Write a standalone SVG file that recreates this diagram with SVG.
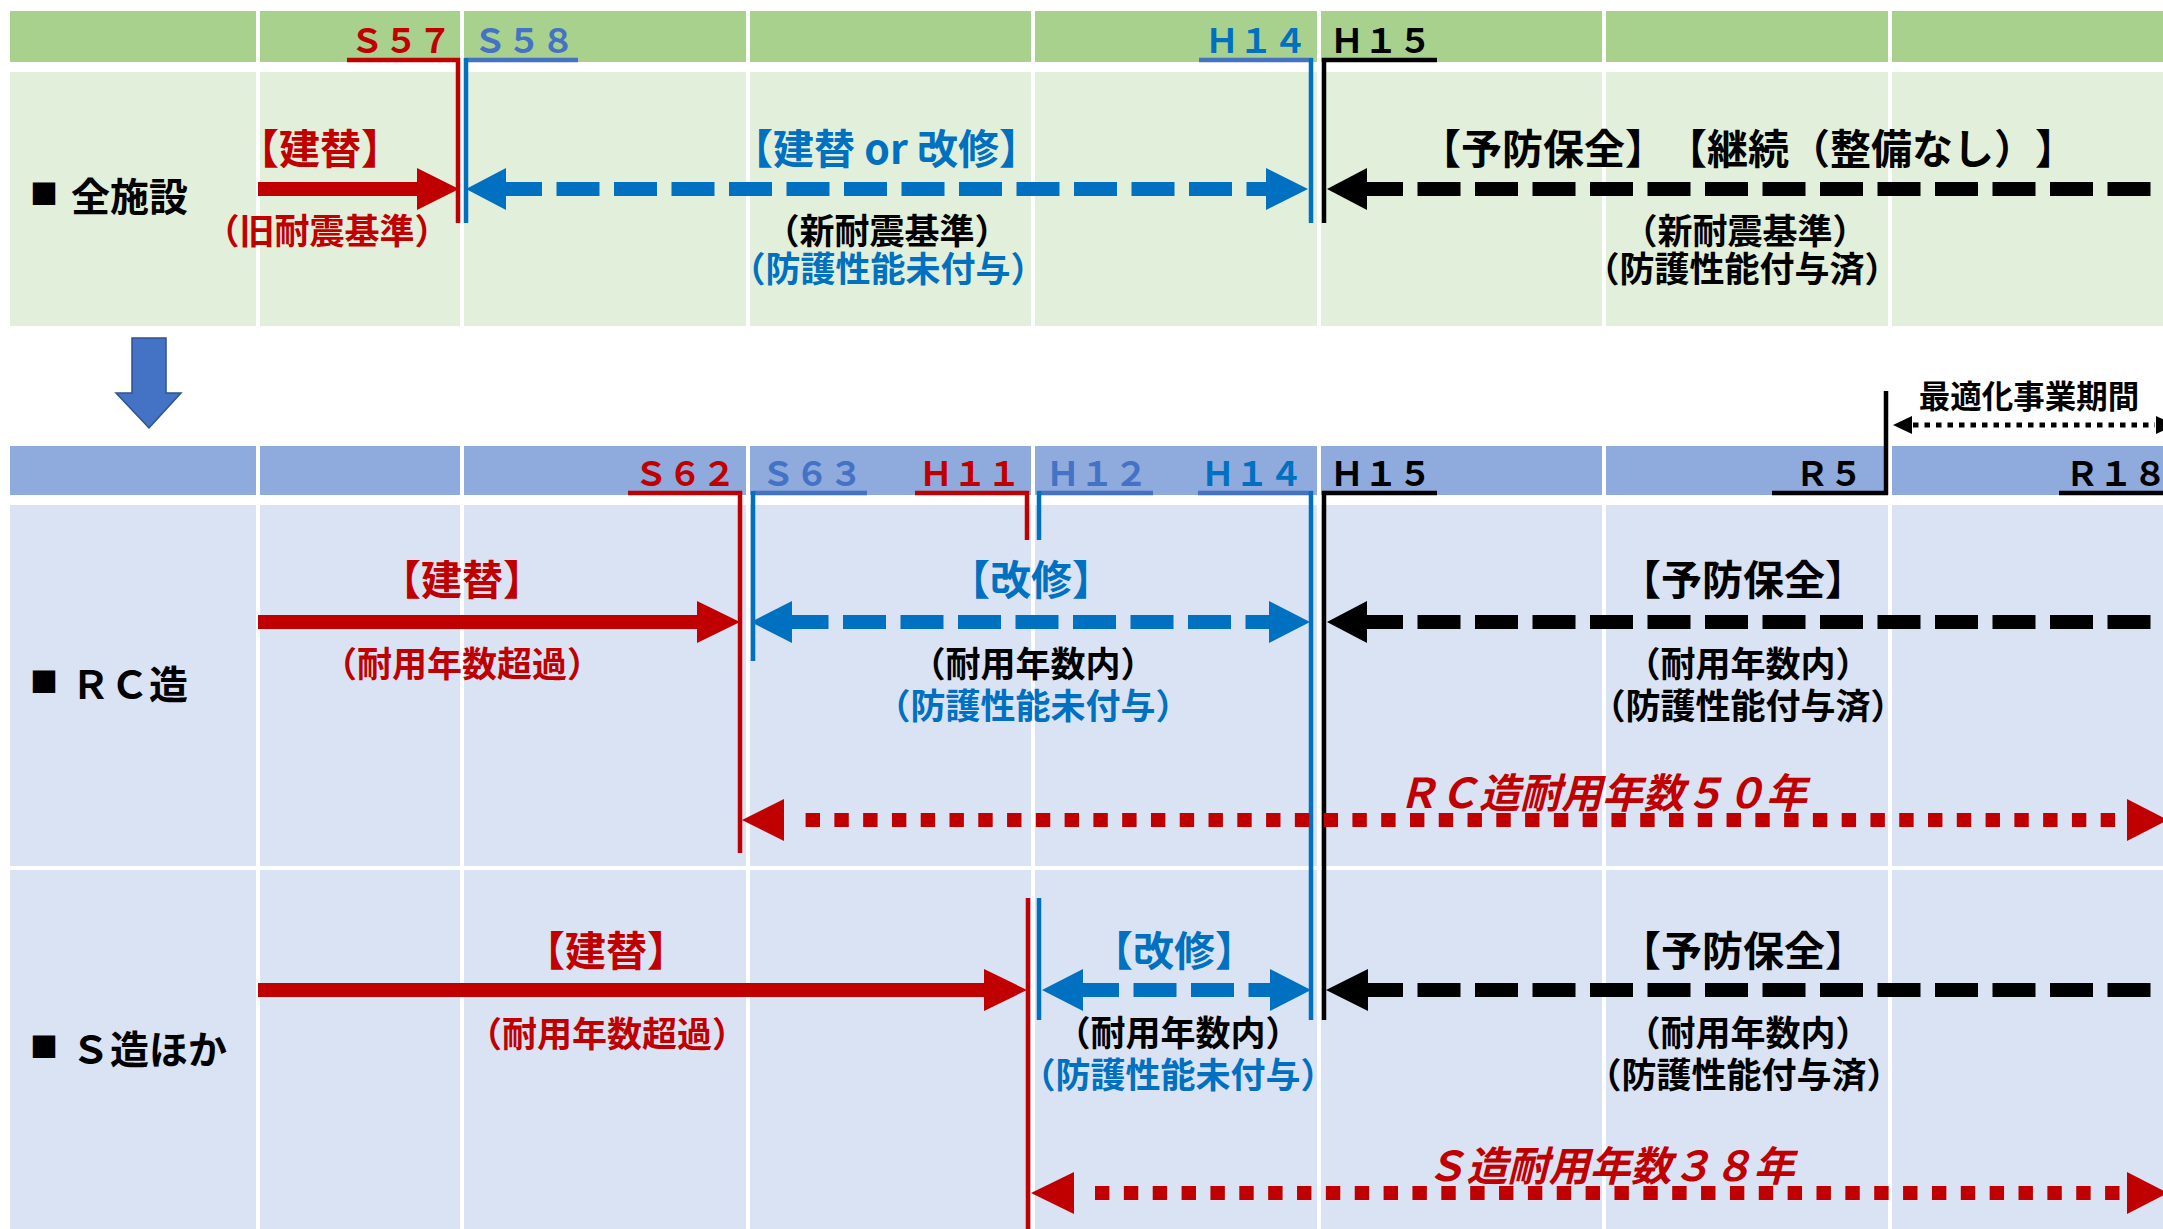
<svg xmlns="http://www.w3.org/2000/svg" width="2163" height="1229" viewBox="0 0 2163 1229">
<defs>
<style>
text{font-family:"Noto Sans CJK JP","Noto Sans",sans-serif;font-weight:700;text-spacing-trim:space-all}
.hdr{font-size:34px;text-anchor:middle}
.lbl{font-size:41px;text-anchor:middle}
.par{font-size:35px;text-anchor:middle}
.row{font-size:39px}
.sq{font-size:28px}
.ital{font-size:41px;font-style:italic;text-anchor:middle}
.red{fill:#C00000}.blue{fill:#0070C0}.lblue{fill:#4472C4}.blk{fill:#000}
.gh{fill:#A9D18E}.gb{fill:#E2EFDA}.bh{fill:#8FAADC}.bb{fill:#DAE3F3}
.wl{stroke:#fff;stroke-width:4}
.vr{stroke:#C00000;stroke-width:4.5}.vb{stroke:#0070C0;stroke-width:4.5}.vk{stroke:#000;stroke-width:4.5}
.ur{stroke:#C00000;stroke-width:4.5}.ub{stroke:#4472C4;stroke-width:4.5}.uk{stroke:#000;stroke-width:4.5}
.dashB{stroke:#0070C0;stroke-width:14;stroke-dasharray:43 14.5;fill:none}
.dashK{stroke:#000;stroke-width:14;stroke-dasharray:43 14.5;fill:none}
.dotR{stroke:#C00000;stroke-width:14;fill:none}
.dotK{stroke:#000;stroke-width:5;stroke-dasharray:5.5 6;fill:none}
</style>
</defs>
<rect x="0" y="0" width="2163" height="1229" fill="#fff"/>

<g id="band-top">
<rect class="gh" x="10" y="11" width="2153" height="51"/>
<rect class="gb" x="10" y="72" width="2153" height="254"/>
</g>
<g id="band-bottom">
<rect class="bh" x="10" y="446" width="2153" height="49"/>
<rect class="bb" x="10" y="505" width="2153" height="361"/>
<rect class="bb" x="10" y="870" width="2153" height="359"/>
</g>
<g id="grid-lines">
<path class="wl" d="M258 0V1229M462 0V1229M748 0V1229M1033 0V1229M1319 0V1229M1604 0V1229M1890 0V1229"/>
<path fill="#fff" d="M0 62H2163V72H0ZM0 326H2163V446H0ZM0 495H2163V505H0ZM0 866H2163V870H0Z"/>
</g>

<g id="down-arrow">
<polygon points="132,338 166,338 166,393 181,393 149,428 116,393 132,393" fill="#4472C4" stroke="#2F528F" stroke-width="1.5"/>
</g>

<g id="connectors">
<path class="ur" d="M347 60H460"/>
<path class="ub" d="M465 60H578"/>
<path class="ub" d="M1199 60H1313"/>
<path class="uk" d="M1322 60H1437"/>
<path class="vr" d="M458 58V223"/>
<path class="vb" d="M466 58V223"/>
<path class="vb" d="M1311 58V223"/>
<path class="vk" d="M1324 58V223"/>
<rect x="258" y="182" width="162" height="14" fill="#C00000"/>
<polygon points="417,168 459,189 417,210" fill="#C00000"/>
<path class="dashB" d="M499 189H1270"/>
<polygon points="466,189 506,168 506,210" fill="#0070C0"/>
<polygon points="1266,168 1308,189 1266,210" fill="#0070C0"/>
<path class="dashK" d="M1360 189H2151"/>
<polygon points="1327,189 1367,168 1367,210" fill="#000"/>

<path class="ur" d="M628 493H742"/>
<path class="ub" d="M753 493H867"/>
<path class="ur" d="M915 493H1029"/>
<path class="ub" d="M1037 493H1153"/>
<path class="ub" d="M1198 493H1313"/>
<path class="uk" d="M1322 493H1437"/>
<path class="uk" d="M1772 493H1888"/>
<path class="uk" d="M2059 493H2163"/>
<path class="vr" d="M740 491V853"/>
<path class="vb" d="M753 491V661"/>
<path class="vr" d="M1027 491V540"/>
<path class="vb" d="M1039 491V540"/>
<path class="vb" d="M1311 491V1020"/>
<path class="vk" d="M1324 491V1020"/>
<path class="vk" d="M1886 391V495"/>
<path class="vr" d="M1028 898V1229"/>
<path class="vb" d="M1039 898V1020"/>

<path class="dotK" d="M1913 425H2155"/>
<polygon points="1893,425 1912,416 1912,434" fill="#000"/>
<polygon points="2156,416 2175,425 2156,434" fill="#000"/>

<rect x="258" y="615" width="441" height="14" fill="#C00000"/>
<polygon points="697,601 740,622 697,643" fill="#C00000"/>
<path class="dashB" d="M785.5 622H1272"/>
<polygon points="751,622 792,601 792,643" fill="#0070C0"/>
<polygon points="1269,601 1310,622 1269,643" fill="#0070C0"/>
<path class="dashK" d="M1360 622H2152"/>
<polygon points="1327,622 1367,601 1367,643" fill="#000"/>
<path class="dotR" stroke-dasharray="14.4 14.38" d="M805.6 820H2118"/>
<polygon points="742,820 784,799 784,841" fill="#C00000"/>
<polygon points="2127,799 2168,820 2127,841" fill="#C00000"/>

<rect x="258" y="983" width="728" height="14" fill="#C00000"/>
<polygon points="984,969 1027,990 984,1011" fill="#C00000"/>
<path class="dashB" d="M1076 990H1272"/>
<polygon points="1042,990 1083,969 1083,1011" fill="#0070C0"/>
<polygon points="1270,969 1311,990 1270,1011" fill="#0070C0"/>
<path class="dashK" d="M1360 990H2152"/>
<polygon points="1326,990 1368,969 1368,1011" fill="#000"/>
<path class="dotR" stroke-dasharray="14.4 14.46" d="M1095 1193H2121"/>
<polygon points="1031,1193 1074,1172 1074,1214" fill="#C00000"/>
<polygon points="2127,1172 2168,1193 2127,1214" fill="#C00000"/>
</g>

<g id="header-top-labels">
<text class="hdr red" x="401" y="53">Ｓ５７</text>
<text class="hdr lblue" x="524" y="53">Ｓ５８</text>
<text class="hdr blue" x="1256" y="53">Ｈ１４</text>
<text class="hdr blk" x="1381" y="53">Ｈ１５</text>
</g>
<g id="header-bottom-labels">
<text class="hdr red" x="685" y="486">Ｓ６２</text>
<text class="hdr lblue" x="812" y="486">Ｓ６３</text>
<text class="hdr red" x="970" y="486">Ｈ１１</text>
<text class="hdr lblue" x="1097" y="486">Ｈ１２</text>
<text class="hdr blue" x="1252" y="486">Ｈ１４</text>
<text class="hdr blk" x="1381" y="486">Ｈ１５</text>
<text class="hdr blk" x="1829" y="486">Ｒ５</text>
<text class="hdr blk" x="2116" y="486">Ｒ１８</text>
</g>
<g id="period-label">
<text x="2029" y="408" font-size="31.5" text-anchor="middle" fill="#000">最適化事業期間</text>
</g>

<g id="row-all">
<text class="row blk" y="211"><tspan class="sq" x="30" y="204.5">■</tspan><tspan x="71" y="211">全施設</tspan></text>
<text class="lbl red" x="320" y="164">【建替】</text>
<text class="par red" x="327" y="244">（旧耐震基準）</text>
<text class="lbl blue" x="886" y="164">【建替 or 改修】</text>
<text class="par blk" x="887" y="244">（新耐震基準）</text>
<text class="par blue" x="888" y="282">（防護性能未付与）</text>
<text class="lbl blk" x="1748" y="164">【予防保全】【継続（整備なし）】</text>
<text class="par blk" x="1745" y="244">（新耐震基準）</text>
<text class="par blk" x="1742" y="282">（防護性能付与済）</text>
</g>

<g id="row-rc">
<text class="row blk" y="699"><tspan class="sq" x="30" y="692.5">■</tspan><tspan x="71" y="699">ＲＣ造</tspan></text>
<text class="lbl red" x="462" y="595">【建替】</text>
<text class="par red" x="462" y="677">（耐用年数超過）</text>
<text class="lbl blue" x="1031" y="595">【改修】</text>
<text class="par blk" x="1033" y="677">（耐用年数内）</text>
<text class="par blue" x="1033" y="719">（防護性能未付与）</text>
<text class="lbl blk" x="1743" y="595">【予防保全】</text>
<text class="par blk" x="1748" y="677">（耐用年数内）</text>
<text class="par blk" x="1748" y="719">（防護性能付与済）</text>
<text class="ital red" x="1602" y="808">ＲＣ造耐用年数５０年</text>
</g>

<g id="row-s">
<text class="row blk" y="1064"><tspan class="sq" x="30" y="1057.5">■</tspan><tspan x="71" y="1064">Ｓ造ほか</tspan></text>
<text class="lbl red" x="606" y="966">【建替】</text>
<text class="par red" x="607" y="1047">（耐用年数超過）</text>
<text class="lbl blue" x="1174" y="966">【改修】</text>
<text class="par blk" x="1178" y="1046">（耐用年数内）</text>
<text class="par blue" x="1178" y="1088">（防護性能未付与）</text>
<text class="lbl blk" x="1743" y="966">【予防保全】</text>
<text class="par blk" x="1748" y="1046">（耐用年数内）</text>
<text class="par blk" x="1744" y="1088">（防護性能付与済）</text>
<text class="ital red" x="1610" y="1181">Ｓ造耐用年数３８年</text>
</g>
</svg>
